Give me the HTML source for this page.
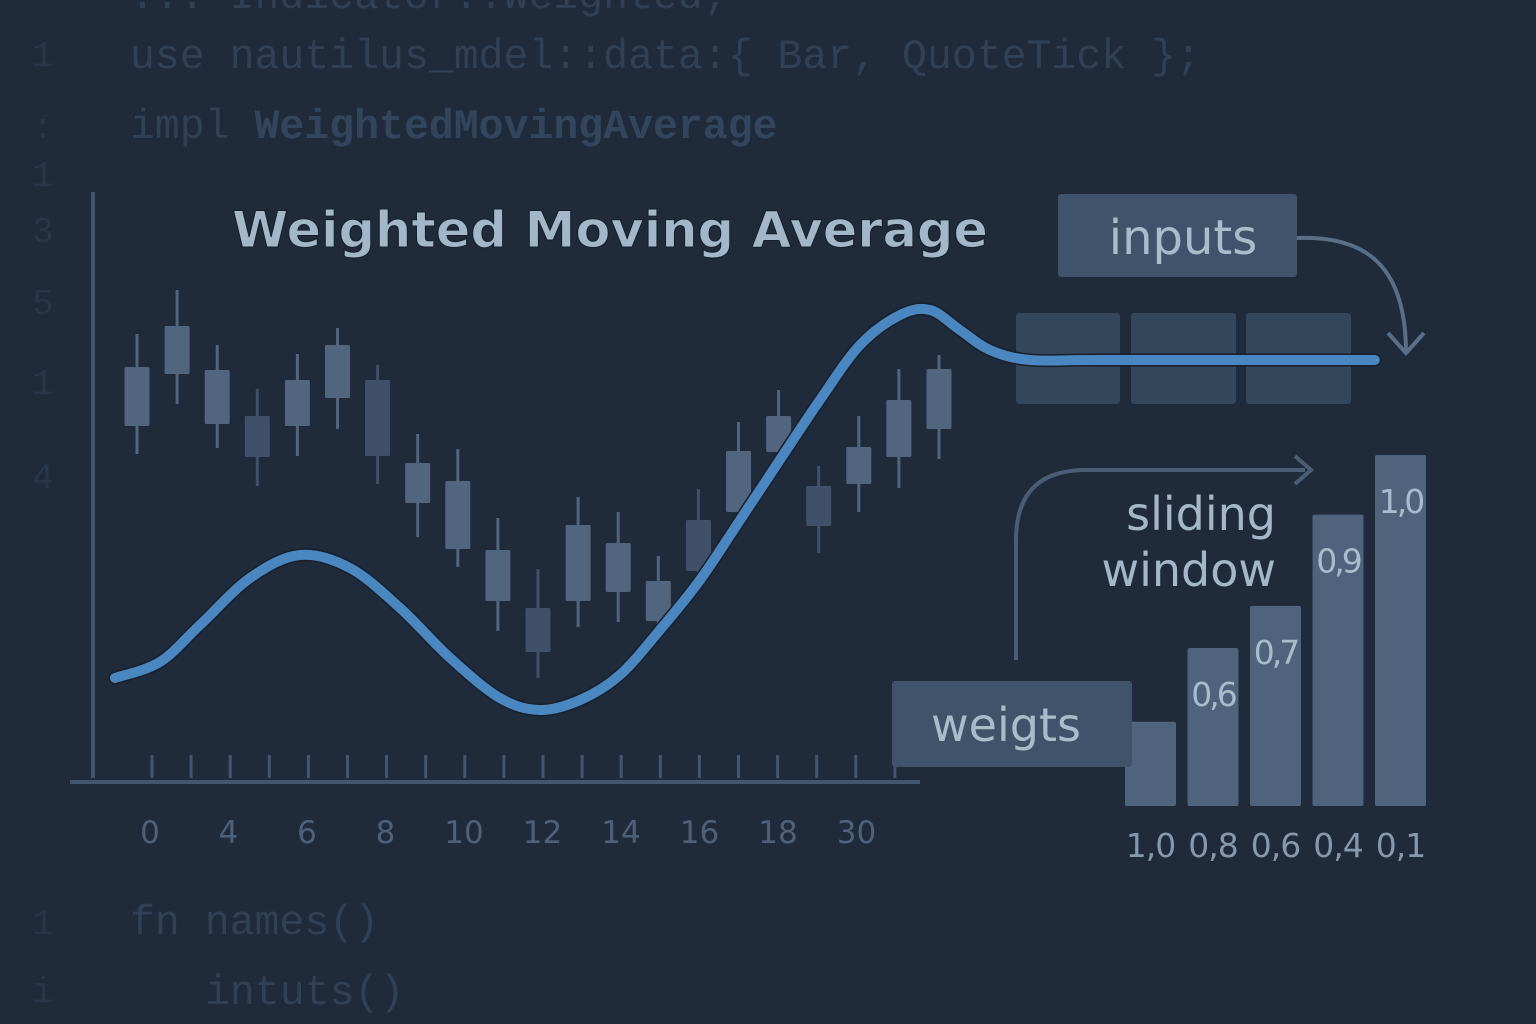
<!DOCTYPE html>
<html><head><meta charset="utf-8">
<style>
html,body{margin:0;padding:0;background:#1f2a3a;}
svg{display:block;}
.code{font-family:"Liberation Mono",monospace;font-size:41.5px;fill:#304055;}
.ln{font-family:"Liberation Mono",monospace;font-size:36px;fill:#28364a;}
.sans{font-family:"DejaVu Sans","Liberation Sans",sans-serif;}
</style></head>
<body>
<svg id="chart" width="1536" height="1024" viewBox="0 0 1536 1024" xmlns="http://www.w3.org/2000/svg">
<rect width="1536" height="1024" fill="#1f2a3a"/>
<g>
<text class="code" x="130" y="8">... Indicator::Weighted;</text>
<text class="ln" x="32" y="66">1</text>
<text class="code" x="130" y="68">use nautilus_mdel::data:{ Bar, QuoteTick };</text>
<text class="ln" x="32" y="138">:</text>
<text class="code" x="130" y="138">impl <tspan font-weight="bold" fill="#33455c">WeightedMovingAverage</tspan></text>
<text class="ln" x="32" y="186">1</text>
<text class="ln" x="32" y="242">3</text>
<text class="ln" x="32" y="314">5</text>
<text class="ln" x="32" y="394">1</text>
<text class="ln" x="32" y="488">4</text>
<text class="ln" x="32" y="934">1</text>
<text class="code" x="130" y="934">fn names()</text>
<text class="ln" x="32" y="1002">i</text>
<text class="code" x="205" y="1004">intuts()</text>
</g>
<text class="sans" x="232" y="247" font-size="50" font-weight="bold" fill="#a3b7c8" stroke="#15202c" stroke-width="1" textLength="756" lengthAdjust="spacingAndGlyphs">Weighted Moving Average</text>
<line x1="93" y1="192" x2="93" y2="778" stroke="#44566d" stroke-width="4"/>
<line x1="70" y1="782" x2="920" y2="782" stroke="#44566d" stroke-width="4"/>
<g id="ticks"></g><g id="candles"></g>
<g>
<rect x="1058" y="194" width="239" height="83" rx="3" fill="#40536b"/>
<text class="sans" x="1183" y="254" font-size="48" fill="#a9bccc" text-anchor="middle">inputs</text>
<path d="M1297 238 C1370 235 1405 270 1406 350" fill="none" stroke="#5a6e86" stroke-width="4"/>
<path d="M1388 333 L1406 353 L1424 333" fill="none" stroke="#5a6e86" stroke-width="4"/>
<rect x="1016" y="313" width="104" height="91" rx="3" fill="#34465c"/>
<rect x="1131" y="313" width="105" height="91" rx="3" fill="#34465c"/>
<rect x="1246" y="313" width="105" height="91" rx="3" fill="#34465c"/>
</g>
<g id="line"></g>
<path d="M1016 660 L1016 540 Q1016 470 1086 470 L1305 470" fill="none" stroke="#4a5d75" stroke-width="4"/>
<path d="M1295 456 L1311 470 L1295 484" fill="none" stroke="#4a5d75" stroke-width="4"/>
<text class="sans" x="1276" y="530" font-size="46" fill="#a3b7c8" text-anchor="end">sliding</text>
<text class="sans" x="1276" y="586" font-size="46" fill="#a3b7c8" text-anchor="end">window</text>
<g id="bars"></g>
<rect x="892" y="681" width="240" height="86" rx="3" fill="#40536b"/>
<text class="sans" x="1006" y="741" font-size="46" fill="#a9bccc" text-anchor="middle">weigts</text>
</svg>
<script>
const xTickLabels = ["0","4","6","8","10","12","14","16","18","30"];
const candleOpen  = [374,426,376,384,374,402,420,297,251,199,192,199,208,179,280,288,348,314,316,343,371];
const candleClose = [433,474,430,343,420,455,344,337,319,250,148,275,257,219,229,349,384,274,353,400,431];
const candleHigh  = [466,510,455,411,446,472,435,366,351,282,231,303,288,244,311,378,410,334,384,431,445];
const candleLow   = [346,396,352,314,344,371,316,263,233,169,122,173,178,163,208,267,333,247,288,312,341];
const wmaX = [-0.55,0.57,1.57,2.82,4.06,5.31,6.56,7.81,9.05,10.05,11.05,12.04,13.04,14.04,15.04,16.03,17.03,18.03,19.03,19.78,20.52,21.27,22.27,24.01,30.87];
const wmaY = [122,138,175,222,245,232,192,142,102,90,100,125,170,220,280,340,400,455,485,490,470,450,440,440,440];
const weightValues = [0.24,0.45,0.57,0.83,1.0];
const weightInnerLabels = ["","0,6","0,7","0,9","1,0"];
const weightBottomLabels = ["1,0","0,8","0,6","0,4","0,1"];

const NS="http://www.w3.org/2000/svg";
function mk(tag,attrs,parent){const e=document.createElementNS(NS,tag);for(const k in attrs)e.setAttribute(k,attrs[k]);parent.appendChild(e);return e;}
const xs = i => 137 + i*40.1;
const ys = v => 800 - v;
const bx = i => 1125 + i*62.5;
const bh = v => v*351;

const tg=document.getElementById('ticks');
for(let i=0;i<20;i++){
  const t=mk('line',{x1:152+i*39.1,x2:152+i*39.1,y1:755,y2:778,stroke:'#44566d','stroke-width':3},tg);
  
  
}
xTickLabels.forEach((l,i)=>{
  const t=mk('text',{x:150+i*78.5,y:843,'font-size':31,fill:'#4f6178','text-anchor':'middle','class':'sans'},tg);
  t.textContent=l;
  
  
});

const cg=document.getElementById('candles');
candleOpen.forEach((o,i)=>{
  const c=candleClose[i], up=c>=o, x=xs(i);
  const col=up?'#52657e':'#3f5068';
  const w=mk('line',{x1:x,x2:x,y1:ys(candleHigh[i]),y2:ys(candleLow[i]),stroke:col,'stroke-width':3},cg);
  
  
  const b=mk('rect',{x:x-12.5,y:ys(Math.max(o,c)),width:25,height:Math.abs(c-o),rx:1.5,fill:col},cg);
  
  
});

const pts=wmaX.map((x,i)=>[xs(x),ys(wmaY[i])]);
let d='M'+pts[0][0]+' '+pts[0][1];
for(let i=0;i<pts.length-1;i++){
  const p0=pts[Math.max(0,i-1)],p1=pts[i],p2=pts[i+1],p3=pts[Math.min(pts.length-1,i+2)];
  d+=` C${p1[0]+(p2[0]-p0[0])/6} ${p1[1]+(p2[1]-p0[1])/6} ${p2[0]-(p3[0]-p1[0])/6} ${p2[1]-(p3[1]-p1[1])/6} ${p2[0]} ${p2[1]}`;
}
const lg=document.getElementById('line');
const sh=mk('path',{d:d,fill:'none',stroke:'#17202c','stroke-width':13,'stroke-linecap':'round'},lg);


const ln=mk('path',{d:d,fill:'none',stroke:'#4a86bf','stroke-width':10,'stroke-linecap':'round'},lg);



const bg=document.getElementById('bars');
weightValues.forEach((v,i)=>{
  const r=mk('rect',{x:bx(i),y:806-bh(v),width:51,height:bh(v),rx:2,fill:'#4f637c'},bg);
  
  
  if(weightInnerLabels[i]){
    const t=mk('text',{x:bx(i)+25.5,y:806-bh(v)+58,'font-size':33,fill:'#a9bccc','text-anchor':'middle','class':'sans','letter-spacing':'-3'},bg);
    t.textContent=weightInnerLabels[i];
    
    
  }
  const b=mk('text',{x:bx(i)+25.5,y:857,'font-size':33,fill:'#8598ac','text-anchor':'middle','class':'sans','letter-spacing':'-1'},bg);
  b.textContent=weightBottomLabels[i];
  
  
});
</script>
</body></html>
